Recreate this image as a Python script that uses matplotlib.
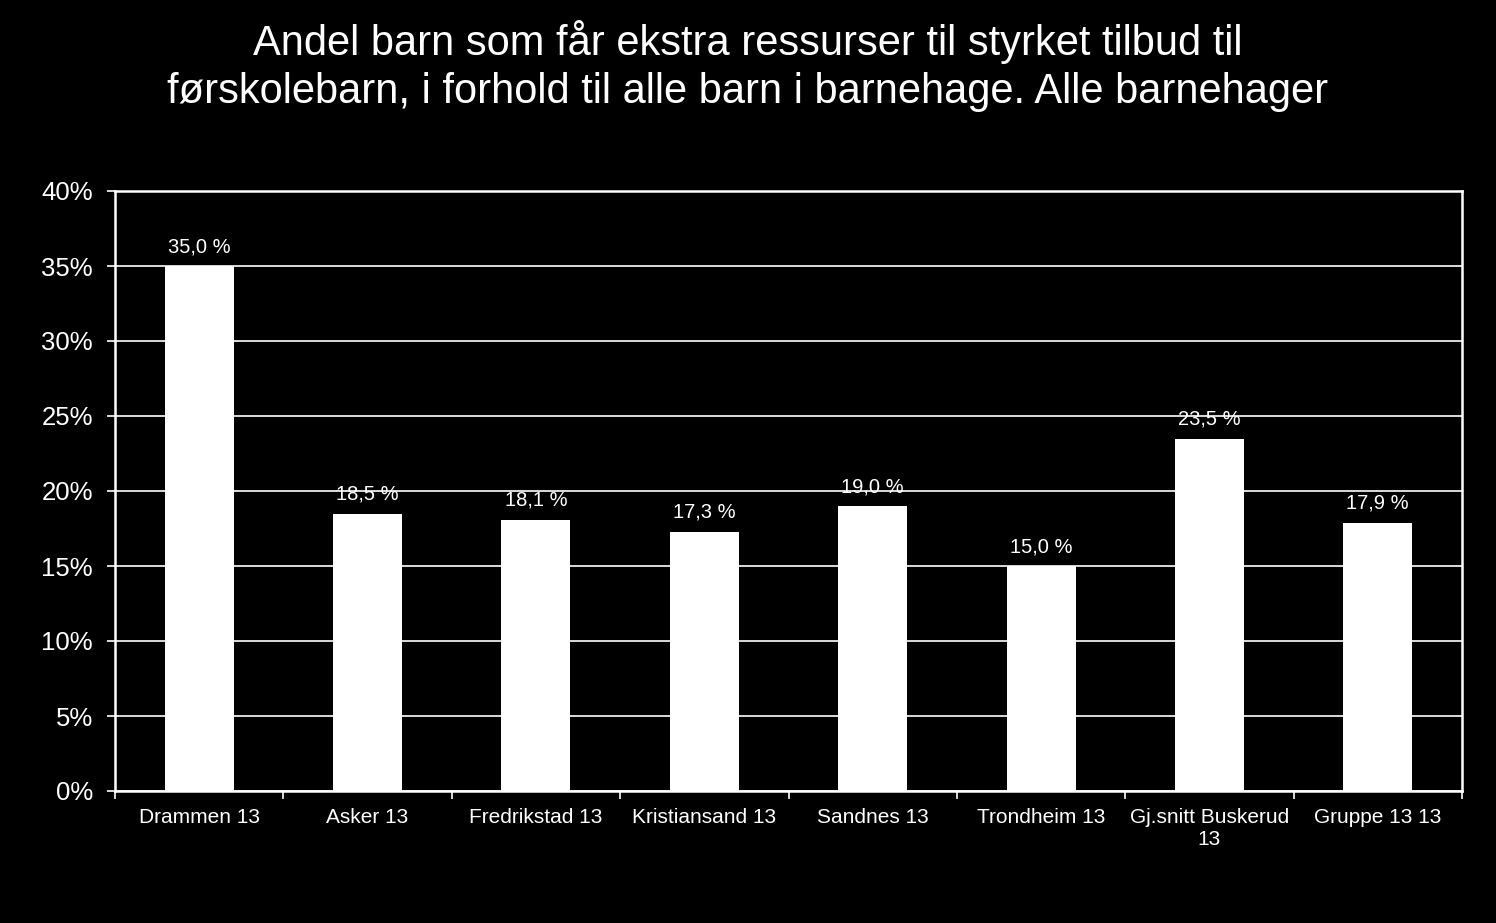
import matplotlib.pyplot as plt
import numpy as np

categories = ["Drammen 13", "Asker 13", "Fredrikstad 13", "Kristiansand 13",
              "Sandnes 13", "Trondheim 13", "Gj.snitt Buskerud\n13", "Gruppe 13 13"]
values = [35.0, 18.5, 18.1, 17.3, 19.0, 15.0, 23.5, 17.9]
yticks = [0, 5, 10, 15, 20, 25, 30, 35, 40]
title = ("Andel barn som får ekstra ressurser til styrket tilbud til\n"
         "førskolebarn, i forhold til alle barn i barnehage. Alle barnehager")


def main():
    plt.rcParams['font.family'] = ['Liberation Sans', 'DejaVu Sans']
    fig = plt.figure(figsize=(14.96, 9.23), dpi=100, facecolor='black')
    ax = fig.add_axes([115 / 1496, 1 - 791 / 923, 1347 / 1496, 600 / 923])
    ax.set_facecolor('black')

    x = np.arange(len(categories))
    bars = ax.bar(x, values, width=0.41, color='white', zorder=3)

    for b, v in zip(bars, values):
        ax.annotate(f"{v:.1f} %".replace('.', ','),
                    (b.get_x() + b.get_width() / 2, v),
                    xytext=(0, 7), textcoords='offset points',
                    ha='center', va='bottom', color='white', fontsize=14.5)

    ax.set_xlim(-0.5, len(categories) - 0.5)
    ax.set_ylim(0, 40)
    ax.set_yticks(yticks)
    ax.set_yticklabels([f"{t}%" for t in yticks])
    ax.yaxis.grid(True, color='white', linewidth=1.2, zorder=1)

    # ticks between categories, labels centered under bars
    ax.set_xticks(np.arange(len(categories) + 1) - 0.5)
    ax.set_xticklabels([])
    ax.set_xticks(x, minor=True)
    ax.set_xticklabels(categories, minor=True, fontsize=15, color='white')
    ax.tick_params(axis='x', which='minor', length=0, pad=12)
    ax.tick_params(axis='x', which='major', length=6, width=1.2, color='white', direction='out')
    ax.tick_params(axis='y', length=6, width=1.2, color='white', labelcolor='white',
                   labelsize=18.5, pad=10)

    for side in ['left', 'right', 'bottom', 'top']:
        ax.spines[side].set_color('white')
        ax.spines[side].set_linewidth(1.8)

    fig.text(0.5, 0.9285, title, ha='center', va='center', color='white',
             fontsize=30, linespacing=1.25)

    fig.savefig('out.png', dpi=100, facecolor='black')


if __name__ == '__main__':
    main()
